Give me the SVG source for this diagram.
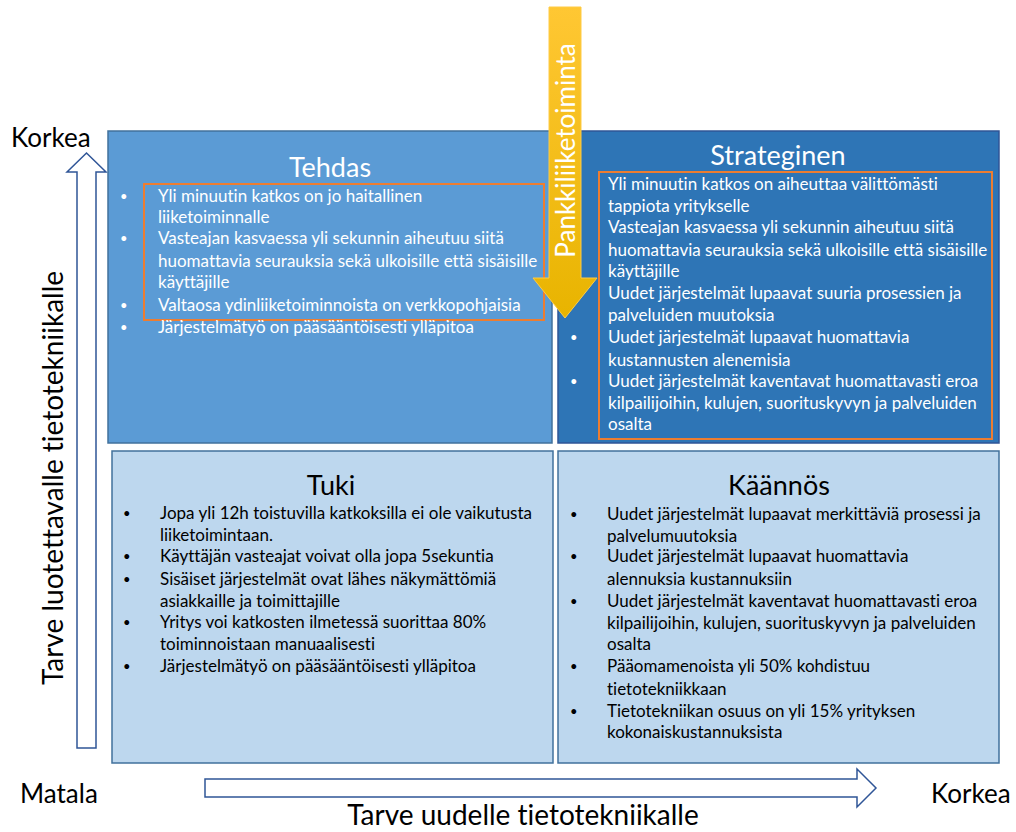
<svg xmlns="http://www.w3.org/2000/svg" width="1016" height="832" viewBox="0 0 1016 832">
<defs>
<linearGradient id="gold" x1="0" y1="0" x2="0" y2="1">
<stop offset="0" stop-color="#FFC733"/>
<stop offset="1" stop-color="#E8B400"/>
</linearGradient>
<style>
text{font-family:Lato,"Open Sans","Liberation Sans",sans-serif;font-variant-ligatures:none}
.body{font-size:17px}
.w{fill:#FFFFFF}
.k{fill:#000000}
.title{font-size:27px;text-anchor:middle}
.axis{font-size:26px;fill:#000000}
.axl{font-size:28px}
.bul{font-size:13px}
.hl{fill:none;stroke:#ED7D31;stroke-width:2}
.outline{fill:#FFFFFF;stroke:#2F5597;stroke-width:1.5}
</style>
</defs>
<rect width="1016" height="832" fill="#FFFFFF"/>

<g id="axes">
<polygon class="outline" points="77,172 67,172 86.5,153 106,172 96,172 96,748 77,748"/>
<polygon class="outline" points="205,779 857,779 857,769 876,788 857,807 857,797 205,797"/>
<text class="axis" x="11" y="147">Korkea</text>
<text class="axis" x="20" y="803">Matala</text>
<text class="axis" x="931" y="803">Korkea</text>
<text class="axis axl" x="523" y="825" text-anchor="middle">Tarve uudelle tietotekniikalle</text>
<text class="axis axl" transform="translate(63,478) rotate(-90)" text-anchor="middle">Tarve luotettavalle tietotekniikalle</text>
</g>

<g id="tehdas">
<rect x="108" y="131" width="444" height="312" fill="#5B9BD5" stroke="#41719C" stroke-width="1.5"/>
<rect class="hl" x="144" y="184" width="400" height="136"/>
<text class="title w" x="330" y="177">Tehdas</text>
<g class="body w">
<text class="bul" x="120" y="201">•</text>
<text class="bul" x="120" y="243">•</text>
<text class="bul" x="120" y="310">•</text>
<text class="bul" x="120" y="332">•</text>
<text x="158" y="202">Yli minuutin katkos on jo haitallinen</text>
<text x="158" y="223">liiketoiminnalle</text>
<text x="158" y="244">Vasteajan kasvaessa yli sekunnin aiheutuu siitä</text>
<text x="158" y="267">huomattavia seurauksia sekä ulkoisille että sisäisille</text>
<text x="158" y="288">käyttäjille</text>
<text x="158" y="311">Valtaosa ydinliiketoiminnoista on verkkopohjaisia</text>
<text x="158" y="333">Järjestelmätyö on pääsääntöisesti ylläpitoa</text>
</g>
</g>

<g id="strateginen">
<rect x="558" y="131" width="441" height="312" fill="#2E75B6" stroke="#2F5597" stroke-width="1.5"/>
<rect class="hl" x="599" y="172" width="393" height="267"/>
<text class="title w" x="778" y="165">Strateginen</text>
<g class="body w">
<text class="bul" x="570" y="342">•</text>
<text class="bul" x="570" y="386">•</text>
<text x="608" y="190">Yli minuutin katkos on aiheuttaa välittömästi</text>
<text x="608" y="212">tappiota yritykselle</text>
<text x="608" y="233">Vasteajan kasvaessa yli sekunnin aiheutuu siitä</text>
<text x="608" y="256">huomattavia seurauksia sekä ulkoisille että sisäisille</text>
<text x="608" y="277">käyttäjille</text>
<text x="608" y="299">Uudet järjestelmät lupaavat suuria prosessien ja</text>
<text x="608" y="321">palveluiden muutoksia</text>
<text x="608" y="343">Uudet järjestelmät lupaavat huomattavia</text>
<text x="608" y="366">kustannusten alenemisia</text>
<text x="608" y="387">Uudet järjestelmät kaventavat huomattavasti eroa</text>
<text x="608" y="409">kilpailijoihin, kulujen, suorituskyvyn ja palveluiden</text>
<text x="608" y="430">osalta</text>
</g>
</g>

<g id="tuki">
<rect x="112" y="451" width="441" height="312" fill="#BDD7EE" stroke="#41719C" stroke-width="1.5"/>
<text class="title k" x="331" y="495">Tuki</text>
<g class="body k">
<text class="bul" x="123" y="518">•</text>
<text class="bul" x="123" y="561">•</text>
<text class="bul" x="123" y="584">•</text>
<text class="bul" x="123" y="627">•</text>
<text class="bul" x="123" y="671">•</text>
<text x="160" y="519">Jopa yli 12h toistuvilla katkoksilla ei ole vaikutusta</text>
<text x="160" y="541">liiketoimintaan.</text>
<text x="160" y="562">Käyttäjän vasteajat voivat olla jopa 5sekuntia</text>
<text x="160" y="585">Sisäiset järjestelmät ovat lähes näkymättömiä</text>
<text x="160" y="607">asiakkaille ja toimittajille</text>
<text x="160" y="628">Yritys voi katkosten ilmetessä suorittaa 80%</text>
<text x="160" y="650">toiminnoistaan manuaalisesti</text>
<text x="160" y="672">Järjestelmätyö on pääsääntöisesti ylläpitoa</text>
</g>
</g>

<g id="kaannos">
<rect x="558" y="451" width="441" height="312" fill="#BDD7EE" stroke="#41719C" stroke-width="1.5"/>
<text class="title k" x="779" y="495">Käännös</text>
<g class="body k">
<text class="bul" x="570" y="519">•</text>
<text class="bul" x="570" y="561">•</text>
<text class="bul" x="570" y="606">•</text>
<text class="bul" x="570" y="671">•</text>
<text class="bul" x="570" y="716">•</text>
<text x="607" y="520">Uudet järjestelmät lupaavat merkittäviä prosessi ja</text>
<text x="607" y="542">palvelumuutoksia</text>
<text x="607" y="562">Uudet järjestelmät lupaavat huomattavia</text>
<text x="607" y="585">alennuksia kustannuksiin</text>
<text x="607" y="607">Uudet järjestelmät kaventavat huomattavasti eroa</text>
<text x="607" y="629">kilpailijoihin, kulujen, suorituskyvyn ja palveluiden</text>
<text x="607" y="650">osalta</text>
<text x="607" y="672">Pääomamenoista yli 50% kohdistuu</text>
<text x="607" y="695">tietotekniikkaan</text>
<text x="607" y="717">Tietotekniikan osuus on yli 15% yrityksen</text>
<text x="607" y="738">kokonaiskustannuksista</text>
</g>
</g>

<g id="pankki">
<polygon points="549,7 581,7 581,278 597,278 565,318 533,278 549,278" fill="url(#gold)" stroke="#FFCB45" stroke-width="1"/>
<text class="w" font-size="26" transform="translate(575,150.5) rotate(-90)" text-anchor="middle">Pankkiliiketoiminta</text>
</g>
</svg>
